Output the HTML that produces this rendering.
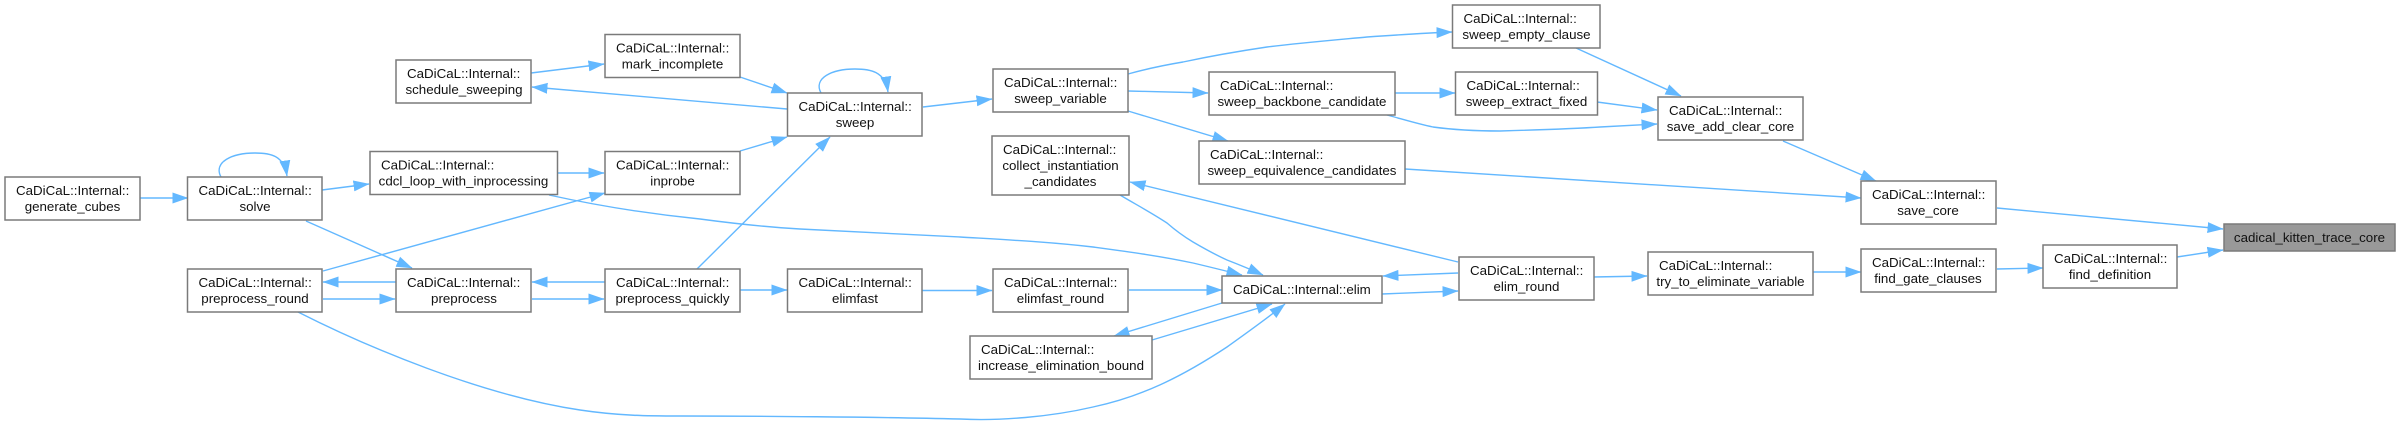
<!DOCTYPE html>
<html><head><meta charset="utf-8"><style>
html,body{margin:0;padding:0;background:#fff;width:2401px;height:426px;overflow:hidden}
svg{display:block;filter:blur(.3px)}
text{font-family:"Liberation Sans",Arial,sans-serif;font-size:13.33px;fill:#111}
.e{fill:none;stroke:#63b8ff;stroke-width:1.4;marker-end:url(#a)}
.n{fill:#fff;stroke:#7a7a7a;stroke-width:1.5}
.m{text-anchor:middle}
</style></head><body>
<svg width="2401" height="426" viewBox="0 0 2401 426" xmlns="http://www.w3.org/2000/svg">
<defs><marker id="a" markerUnits="userSpaceOnUse" viewBox="0 0 16 12" refX="15.5" refY="6" markerWidth="16" markerHeight="12" orient="auto"><path d="M0,0.5L16,6L0,11.5Z" fill="#63b8ff"/></marker></defs>
<g>
<path class="e" d="M140,198L188,198"/>
<path class="e" d="M221,177C213,162 232,153 255,153C270,153 284,155 287,176"/>
<path class="e" d="M322,190L369,184"/>
<path class="e" d="M306,221L412,268"/>
<path class="e" d="M323,271L605,193"/>
<path class="e" d="M557,173L604,173"/>
<path class="e" d="M396,282L323,282"/>
<path class="e" d="M323,299L395,299"/>
<path class="e" d="M605,282L532,282"/>
<path class="e" d="M532,299L604,299"/>
<path class="e" d="M697,269L830,137"/>
<path class="e" d="M740,151L787,137"/>
<path class="e" d="M740,77L787,93"/>
<path class="e" d="M787,109L532,87"/>
<path class="e" d="M531,73L604,64"/>
<path class="e" d="M740,290L787,290"/>
<path class="e" d="M549,195C590,204 640,213 700,219C730,223 765,227 800,229C860,232 910,234 960,237C1010,240 1050,242 1093,247C1130,252 1160,256 1193,263C1210,267 1226,271 1242,275"/>
<path class="e" d="M298,312C365,346 480,395 580,410C620,416 650,416 680,416C750,416 880,417 960,419C1000,421 1050,417 1093,407C1140,397 1180,378 1227,347C1245,334 1265,320 1285,304"/>
<path class="e" d="M922,290.500L992,290.500"/>
<path class="e" d="M1129,290L1222,290"/>
<path class="e" d="M1120,195C1135,204 1152,213 1167,223C1175,230 1183,236 1193,242C1205,249 1216,255 1227,260C1240,265 1252,270 1263,275"/>
<path class="e" d="M1458,262L1130,182"/>
<path class="e" d="M1458,273L1383,276"/>
<path class="e" d="M1382,294L1458,291"/>
<path class="e" d="M1222,303L1114,336"/>
<path class="e" d="M1152,340L1272,304"/>
<path class="e" d="M821,93C813,78 832,69 855,69C870,69 885,71 888,92"/>
<path class="e" d="M923,107L992,99"/>
<path class="e" d="M1128,74C1146,69 1165,65 1183,62C1211,56 1240,51 1267,47C1300,43 1335,40 1367,37C1396,35 1425,33 1452,32"/>
<path class="e" d="M1128,91L1208,93"/>
<path class="e" d="M1128,111L1228,141"/>
<path class="e" d="M1395,93L1455,93"/>
<path class="e" d="M1387,115C1402,119 1418,124 1433,127C1455,130 1478,131 1500,131C1535,130 1570,129 1600,127C1620,126 1640,125 1657,124"/>
<path class="e" d="M1576,48L1681,96"/>
<path class="e" d="M1597,102L1657,110"/>
<path class="e" d="M1405,169L1861,198"/>
<path class="e" d="M1783,141L1876,181"/>
<path class="e" d="M1997,208L2223,229"/>
<path class="e" d="M2177,257L2223,250"/>
<path class="e" d="M1593,277L1647,276"/>
<path class="e" d="M1813,272L1861,272"/>
<path class="e" d="M1997,269L2043,268"/>
</g>
<g>
<rect class="n" x="5" y="177" width="135" height="43"/><text x="16" y="195">CaDiCaL::Internal::</text><text class="m" x="72.500" y="211">generate_cubes</text>
<rect class="n" x="187.500" y="177" width="134.500" height="43"/><text x="198.500" y="195">CaDiCaL::Internal::</text><text class="m" x="255" y="211">solve</text>
<rect class="n" x="396" y="60" width="135" height="43"/><text x="407" y="78">CaDiCaL::Internal::</text><text class="m" x="464" y="94">schedule_sweeping</text>
<rect class="n" x="605" y="34.500" width="135" height="43"/><text x="616" y="52.500">CaDiCaL::Internal::</text><text class="m" x="672.500" y="68.500">mark_incomplete</text>
<rect class="n" x="370" y="151.500" width="187.500" height="43"/><text x="381" y="169.500">CaDiCaL::Internal::</text><text class="m" x="463.500" y="185.500">cdcl_loop_with_inprocessing</text>
<rect class="n" x="605" y="151.500" width="135" height="43"/><text x="616" y="169.500">CaDiCaL::Internal::</text><text class="m" x="672.500" y="185.500">inprobe</text>
<rect class="n" x="187.500" y="269" width="134.500" height="43"/><text x="198.500" y="287">CaDiCaL::Internal::</text><text class="m" x="255" y="303">preprocess_round</text>
<rect class="n" x="396" y="269" width="135" height="43"/><text x="407" y="287">CaDiCaL::Internal::</text><text class="m" x="464" y="303">preprocess</text>
<rect class="n" x="605" y="269" width="135" height="43"/><text x="616" y="287">CaDiCaL::Internal::</text><text class="m" x="672.500" y="303">preprocess_quickly</text>
<rect class="n" x="787.500" y="93" width="134.500" height="43"/><text x="798.500" y="111">CaDiCaL::Internal::</text><text class="m" x="855" y="127">sweep</text>
<rect class="n" x="993" y="69" width="135" height="43"/><text x="1004" y="87">CaDiCaL::Internal::</text><text class="m" x="1060.500" y="103">sweep_variable</text>
<rect class="n" x="992" y="136" width="137" height="59"/><text x="1003" y="154">CaDiCaL::Internal::</text><text class="m" x="1060.500" y="170">collect_instantiation</text><text class="m" x="1060.500" y="186">_candidates</text>
<rect class="n" x="787.500" y="269" width="134.500" height="43"/><text x="798.500" y="287">CaDiCaL::Internal::</text><text class="m" x="855" y="303">elimfast</text>
<rect class="n" x="993" y="269" width="135" height="43"/><text x="1004" y="287">CaDiCaL::Internal::</text><text class="m" x="1060.500" y="303">elimfast_round</text>
<rect class="n" x="1222" y="276" width="160" height="27"/><text x="1233" y="294">CaDiCaL::Internal::elim</text>
<rect class="n" x="970" y="336" width="182" height="43"/><text x="981" y="354">CaDiCaL::Internal::</text><text class="m" x="1061" y="370">increase_elimination_bound</text>
<rect class="n" x="1452.500" y="5" width="147.500" height="43"/><text x="1463.500" y="23">CaDiCaL::Internal::</text><text class="m" x="1526.500" y="39">sweep_empty_clause</text>
<rect class="n" x="1209" y="72" width="186" height="43"/><text x="1220" y="90">CaDiCaL::Internal::</text><text class="m" x="1302" y="106">sweep_backbone_candidate</text>
<rect class="n" x="1455.500" y="72" width="142" height="43"/><text x="1466.500" y="90">CaDiCaL::Internal::</text><text class="m" x="1526.500" y="106">sweep_extract_fixed</text>
<rect class="n" x="1199" y="141" width="206" height="43"/><text x="1210" y="159">CaDiCaL::Internal::</text><text class="m" x="1302" y="175">sweep_equivalence_candidates</text>
<rect class="n" x="1459" y="257" width="135" height="43"/><text x="1470" y="275">CaDiCaL::Internal::</text><text class="m" x="1526.500" y="291">elim_round</text>
<rect class="n" x="1658" y="97" width="145" height="43"/><text x="1669" y="115">CaDiCaL::Internal::</text><text class="m" x="1730.500" y="131">save_add_clear_core</text>
<rect class="n" x="1861" y="181" width="135" height="43"/><text x="1872" y="199">CaDiCaL::Internal::</text><text class="m" x="1928" y="215">save_core</text>
<rect class="n" x="1648" y="252" width="165" height="43"/><text x="1659" y="270">CaDiCaL::Internal::</text><text class="m" x="1730.500" y="286">try_to_eliminate_variable</text>
<rect class="n" x="1861" y="249" width="135" height="43"/><text x="1872" y="267">CaDiCaL::Internal::</text><text class="m" x="1928" y="283">find_gate_clauses</text>
<rect class="n" x="2043" y="245" width="134" height="43"/><text x="2054" y="263">CaDiCaL::Internal::</text><text class="m" x="2110" y="279">find_definition</text>
<rect class="n" x="2224" y="224" width="171" height="27" style="fill:#999"/><text class="m" x="2309.500" y="242">cadical_kitten_trace_core</text>
</g>
</svg>
</body></html>
